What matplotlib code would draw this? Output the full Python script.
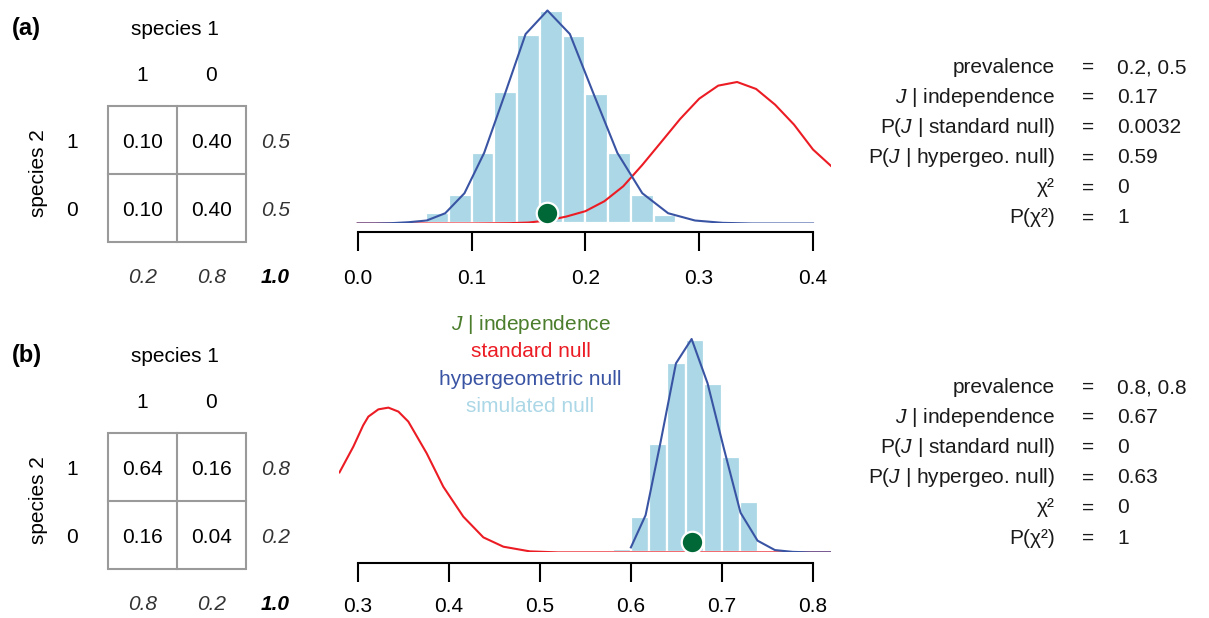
import matplotlib
matplotlib.use("Agg")
import matplotlib.pyplot as plt
from matplotlib.transforms import offset_copy
from matplotlib.patches import Rectangle

plt.rcParams['font.family'] = ['Liberation Sans', 'DejaVu Sans']
plt.rcParams['mathtext.fontset'] = 'custom'
plt.rcParams['mathtext.rm'] = 'Liberation Sans'
plt.rcParams['mathtext.it'] = 'Liberation Sans:italic'

# ---------------- data ----------------
# panel (a)
a_cells = [["0.10", "0.40"], ["0.10", "0.40"]]
a_row_margins = ["0.5", "0.5"]
a_col_margins = ["0.2", "0.8"]
a_bin_left = [0.06, 0.08, 0.10, 0.12, 0.14, 0.16, 0.18, 0.20, 0.22, 0.24, 0.26, 0.28]
a_sim = [1.0, 2.7, 6.6, 12.3, 17.6, 19.9, 17.5, 12.1, 6.6, 2.7, 0.8, 0.2]
a_hyper_x = [0.0, 0.0145, 0.0294, 0.0448, 0.0606, 0.0769, 0.0938, 0.1111, 0.129, 0.1475,
             0.1667, 0.1864, 0.2069, 0.2281, 0.25, 0.2727, 0.2963, 0.3208, 0.3462, 0.4]
a_hyper_y = [0, 0, 0.03, 0.12, 0.28, 0.96, 2.83, 6.6, 12.0, 17.7,
             19.9, 17.7, 12.2, 6.6, 2.83, 0.96, 0.28, 0.06, 0.0, 0]
a_std_x = [0.0, 0.05, 0.1, 0.1333, 0.15, 0.1667, 0.1833, 0.2, 0.2167, 0.2333, 0.25, 0.2667,
           0.2833, 0.3, 0.3167, 0.3333, 0.35, 0.3667, 0.3833, 0.4, 0.4167, 0.4333]
a_std_y = [0, 0, 0, 0.03, 0.09, 0.28, 0.65, 1.15, 2.08, 3.48, 5.47, 7.62,
           9.77, 11.66, 12.88, 13.22, 12.57, 11.10, 9.24, 6.91, 5.29, 3.8]
a_J = 0.1667
a_ticks = [0.0, 0.1, 0.2, 0.3, 0.4]
a_ticklabels = ["0.0", "0.1", "0.2", "0.3", "0.4"]
a_stats = ["0.2, 0.5", "0.17", "0.0032", "0.59", "0", "1"]

# panel (b)
b_cells = [["0.64", "0.16"], ["0.16", "0.04"]]
b_row_margins = ["0.8", "0.2"]
b_col_margins = ["0.8", "0.2"]
b_bin_left = [0.58, 0.60, 0.62, 0.64, 0.66, 0.68, 0.70, 0.72]
b_sim = [0.43, 4.13, 12.5, 21.9, 24.6, 19.5, 11.1, 5.8]
b_hyper_x = [0.6, 0.6162, 0.6327, 0.6495, 0.6667, 0.6842, 0.7021, 0.7204, 0.7391, 0.7582,
             0.7778, 0.7978, 0.8182, 0.84]
b_hyper_y = [0.58, 4.32, 12.83, 21.9, 24.72, 19.59, 12.05, 4.6, 1.36, 0.27,
             0.06, 0, 0, 0]
b_std_x = [0.28, 0.2952, 0.306, 0.3117, 0.3227, 0.3337, 0.3447, 0.3556, 0.3758, 0.394,
           0.416, 0.438, 0.46, 0.489, 0.52, 0.6, 0.7, 0.84]
b_std_y = [9.27, 12.25, 14.72, 15.73, 16.57, 16.77, 16.31, 15.15, 11.47, 7.61,
           4.14, 1.74, 0.66, 0.12, 0, 0, 0, 0]
b_J = 0.6667
b_ticks = [0.3, 0.4, 0.5, 0.6, 0.7, 0.8]
b_ticklabels = ["0.3", "0.4", "0.5", "0.6", "0.7", "0.8"]
b_stats = ["0.8, 0.8", "0.67", "0", "0.63", "0", "1"]

stat_labels = ["prevalence", "$J$ | independence", "P($J$ | standard null)",
               "P($J$ | hypergeo. null)", "\u03c7\u00b2", "P(\u03c7\u00b2)"]
legend_labels = ["$J$ | independence", "standard null", "hypergeometric null", "simulated null"]

# ---------------- style ----------------
C_BAR = '#abd7e6'
C_BLUE = '#3a54a4'
C_RED = '#ec1c24'
C_GREEN_TXT = '#4b7d2c'
C_DOT = '#006837'
C_GRID = '#9a9a9a'
FS = 15

W, H = 1209, 618
fig = plt.figure(figsize=(W / 100, H / 100), dpi=100)


def fx(x):
    return x / W


def fy(y):
    return 1 - y / H


def add_ax_px(left, top, right, bottom):
    return fig.add_axes([fx(left), fy(bottom), (right - left) / W, (bottom - top) / H])


def draw_table(off, label, cells, rmarg, cmarg):
    ax = add_ax_px(107.7, 106 + off, 245.7, 241.7 + off)
    ax.set_xlim(0, 2)
    ax.set_ylim(2, 0)
    ax.axis('off')
    ax.add_patch(Rectangle((0, 0), 2, 2, fill=False, ec=C_GRID, lw=1.5, clip_on=False))
    ax.plot([1, 1], [0, 2], color=C_GRID, lw=1.5, clip_on=False)
    ax.plot([0, 2], [1, 1], color=C_GRID, lw=1.5, clip_on=False)
    d = 0.035  # nudge digits to visual centre
    for i in range(2):
        for j in range(2):
            ax.text(j + 0.5, i + 0.5 + d, cells[i][j], ha='center', va='center', fontsize=FS)
    for j, h in enumerate(["1", "0"]):
        ax.text(j + 0.5, -0.49 + d, h, ha='center', va='center', fontsize=FS)
    for i, h in enumerate(["1", "0"]):
        ax.text(-0.52, i + 0.5 + d, h, ha='center', va='center', fontsize=FS)
    for i, m in enumerate(rmarg):
        ax.text(2.43, i + 0.5 + d, m, ha='center', va='center', fontsize=FS,
                style='italic', color='#333333')
    for j, m in enumerate(cmarg):
        ax.text(j + 0.5, 2.5 + d, m, ha='center', va='center', fontsize=FS,
                style='italic', color='#333333')
    ax.text(2.43, 2.5 + d, "1.0", ha='center', va='center', fontsize=FS,
            style='italic', weight='bold')
    ax.text(0.98, -1.13, "species 1", ha='center', va='center', fontsize=FS)
    ax.text(-1.0, 0.99, "species 2", ha='center', va='center', fontsize=FS, rotation=90)
    fig.text(fx(12), fy(28.8 + off), label, ha='left', va='center', fontsize=17, weight='bold')


def draw_hist(top, base, xlim, peak, outward, pad, bins, sim, hx, hy, sx, sy, J, ticks, tlabels):
    ax = add_ax_px(339, top, 831, base)
    ax.set_xlim(*xlim)
    ax.set_ylim(0, peak * (base - top) / (base - (top + 8.5)))
    ax.bar(bins, sim, width=0.02, align='edge', color=C_BAR, edgecolor='white', linewidth=1.6)
    ax.plot(sx, sy, color=C_RED, lw=1.5)
    ax.plot(hx, hy, color=C_BLUE, lw=1.5)
    tr = offset_copy(ax.transData, fig=fig, x=0, y=10, units='dots')
    ax.plot([J], [0], 'o', ms=15.5, mfc=C_DOT, mec='white', mew=1.6, transform=tr,
            clip_on=False, zorder=5)
    for s in ['left', 'right', 'top']:
        ax.spines[s].set_visible(False)
    ax.spines['bottom'].set_position(('outward', outward * 0.72))
    ax.spines['bottom'].set_bounds(ticks[0], ticks[-1])
    ax.spines['bottom'].set_linewidth(1.5)
    ax.set_yticks([])
    ax.set_xticks(ticks)
    ax.set_xticklabels(tlabels, fontsize=FS)
    ax.tick_params(axis='x', length=13.5, width=1.5, pad=pad)
    ax.patch.set_alpha(0)
    return ax


def draw_stats(off, values):
    for k, (lab, val) in enumerate(zip(stat_labels, values)):
        y = fy(67.5 + off + 30.1 * k)
        fig.text(fx(1055), y, lab, ha='right', va='center', fontsize=FS, color='#1a1a1a')
        fig.text(fx(1088), y, "=", ha='center', va='center', fontsize=FS, color='#1a1a1a')
        fig.text(fx(1117), y, val, ha='left', va='center', fontsize=FS, color='#1a1a1a')


# panel (a)
draw_table(0, "(a)", a_cells, a_row_margins, a_col_margins)
draw_hist(2, 223.5, (-0.01643, 0.4158), max(a_hyper_y), 8.2, 13.3, a_bin_left, a_sim,
          a_hyper_x, a_hyper_y, a_std_x, a_std_y, a_J, a_ticks, a_ticklabels)
draw_stats(0, a_stats)

# panel (b)
draw_table(327, "(b)", b_cells, b_row_margins, b_col_margins)
draw_hist(330.5, 552.4, (0.27946, 0.81977), max(b_hyper_y), 10.2, 11.3, b_bin_left, b_sim,
          b_hyper_x, b_hyper_y, b_std_x, b_std_y, b_J, b_ticks, b_ticklabels)
draw_stats(320, b_stats)

# legend text
leg_colors = [C_GREEN_TXT, C_RED, C_BLUE, C_BAR]
for k, (lab, col) in enumerate(zip(legend_labels, leg_colors)):
    fig.text(fx(530.5), fy(324.5 + 27.3 * k), lab, ha='center', va='center', fontsize=FS, color=col)

fig.savefig("out.png", dpi=100)
